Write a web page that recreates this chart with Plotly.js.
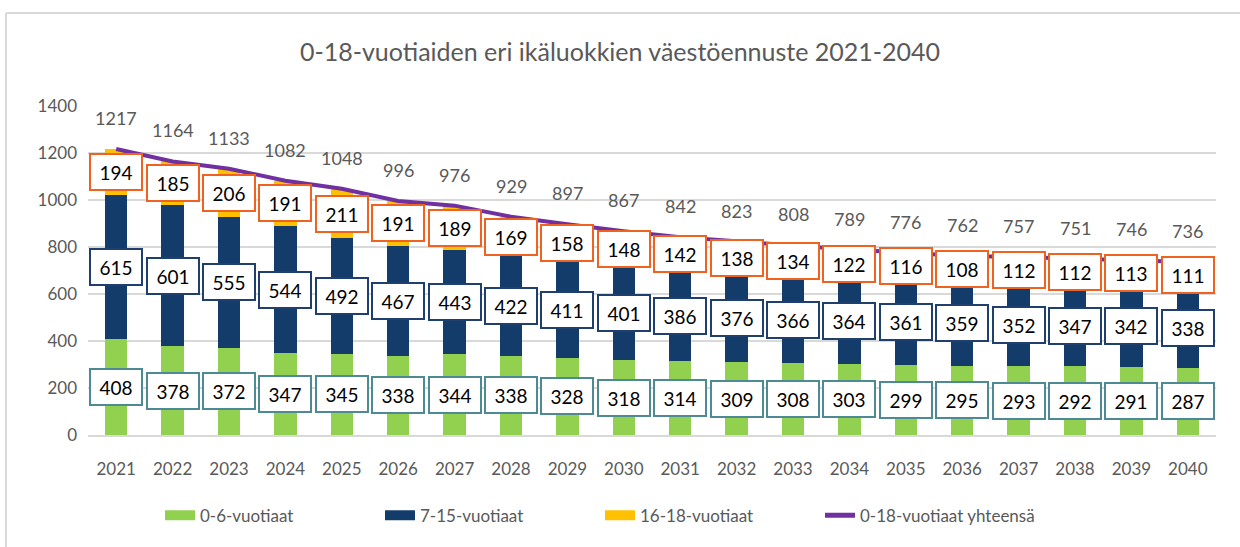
<!DOCTYPE html>
<html>
<head>
<meta charset="utf-8">
<script src="https://cdn.plot.ly/plotly-3.0.1.min.js"></script>
<style>html,body{margin:0;padding:0;background:#fff;}#chart{width:1240px;height:547px;}</style>
</head>
<body>
<div id="chart"></div>
<script>
const years = ["2021","2022","2023","2024","2025","2026","2027","2028","2029","2030","2031","2032","2033","2034","2035","2036","2037","2038","2039","2040"];
const age0_6 = [408,378,372,347,345,338,344,338,328,318,314,309,308,303,299,295,293,292,291,287];
const age7_15 = [615,601,555,544,492,467,443,422,411,401,386,376,366,364,361,359,352,347,342,338];
const age16_18 = [194,185,206,191,211,191,189,169,158,148,142,138,134,122,116,108,112,112,113,111];
const total = [1217,1164,1133,1082,1048,996,976,929,897,867,842,823,808,789,776,762,757,751,746,736];
const seriesNames = ['0-6-vuotiaat','7-15-vuotiaat','16-18-vuotiaat','0-18-vuotiaat yhteensä'];

const FONT = "Lato, 'Open Sans', sans-serif";
const gray = "#595959";
const colors = ['#92d050','#133c6b','#ffc000','#7030a0'];
const idx = years.map((_, i) => i);

const traces = [
  {type:'bar', name:seriesNames[0], x:idx, y:age0_6, marker:{color:colors[0]}, hoverinfo:'skip', showlegend:false},
  {type:'bar', name:seriesNames[1], x:idx, y:age7_15, marker:{color:colors[1]}, hoverinfo:'skip', showlegend:false},
  {type:'bar', name:seriesNames[2], x:idx, y:age16_18, marker:{color:colors[2]}, hoverinfo:'skip', showlegend:false},
  {type:'scatter', mode:'lines', name:seriesNames[3], x:idx, y:total, line:{color:colors[3], width:4}, hoverinfo:'skip', showlegend:false}
];
// legend entries (wide swatches like the original)
seriesNames.forEach((n, k) => {
  traces.push({type:'scatter', mode:'lines', name:n, x:[null], y:[null],
    line:{color:colors[k], width: k === 3 ? 5 : 12}, hoverinfo:'skip', showlegend:true});
});

const annotations = [];
function boxLabel(x, y, val, border){
  annotations.push({x:x, y:y, xref:'x', yref:'y', text:String(val), showarrow:false,
    font:{family:FONT, size:19, color:'#000'}, bgcolor:'#fff', bordercolor:border, borderwidth:2,
    borderpad:4, width:42, height:26, align:'center', valign:'middle'});
}
idx.forEach(i=>{
  boxLabel(i, age0_6[i]/2, age0_6[i], '#4d8a93');
  boxLabel(i, age0_6[i] + age7_15[i]/2, age7_15[i], '#1f3f6e');
  boxLabel(i, age0_6[i] + age7_15[i] + age16_18[i]/2, age16_18[i], '#f0621f');
  annotations.push({x:i, y:total[i], xref:'x', yref:'y', text:String(total[i]), showarrow:false,
    yshift:31, font:{family:FONT, size:18, color:gray}});
});

const plotW = 1240-88-24, plotH = 547-106-112;
const px = x => (x-88)/plotW, py = y => (547-112-y)/plotH;

const layout = {
  width:1240, height:547,
  margin:{l:88, r:24, t:106, b:112},
  paper_bgcolor:'#fff', plot_bgcolor:'#fff',
  barmode:'stack', bargap:0.6,
  title:{text:'0-18-vuotiaiden eri ikäluokkien väestöennuste 2021-2040', font:{family:FONT, size:25, color:gray}, x:0.5, xanchor:'center', y:0.905, yanchor:'middle'},
  xaxis:{range:[-0.5, years.length-0.5], tickmode:'array', tickvals:idx, ticktext:years, tickfont:{family:FONT, size:17, color:gray}, showgrid:false, zeroline:false, showline:true, linecolor:'#d9d9d9', linewidth:2, ticks:'', ticklabelstandoff:18, fixedrange:true},
  yaxis:{range:[0,1400], dtick:200, tickfont:{family:FONT, size:17, color:gray}, gridcolor:'#d9d9d9', gridwidth:2, zeroline:false, showline:false, ticks:'', ticklabelstandoff:10, fixedrange:true},
  legend:{orientation:'h', x:px(160), xanchor:'left', y:-0.245, yanchor:'middle', font:{family:FONT, size:17, color:gray}, traceorder:'normal', itemwidth:30, entrywidth:175, entrywidthmode:'pixels'},
  annotations:annotations,
  shapes:[
    {type:'line', xref:'paper', yref:'paper', x0:px(6), x1:px(1240), y0:py(13), y1:py(13), line:{color:'#d9d9d9', width:2}},
    {type:'line', xref:'paper', yref:'paper', x0:px(6), x1:px(6), y0:py(13), y1:py(547), line:{color:'#d9d9d9', width:2}}
  ],
  showlegend:true
};
Plotly.newPlot('chart', traces, layout, {displayModeBar:false, staticPlot:true});
</script>
</body>
</html>
